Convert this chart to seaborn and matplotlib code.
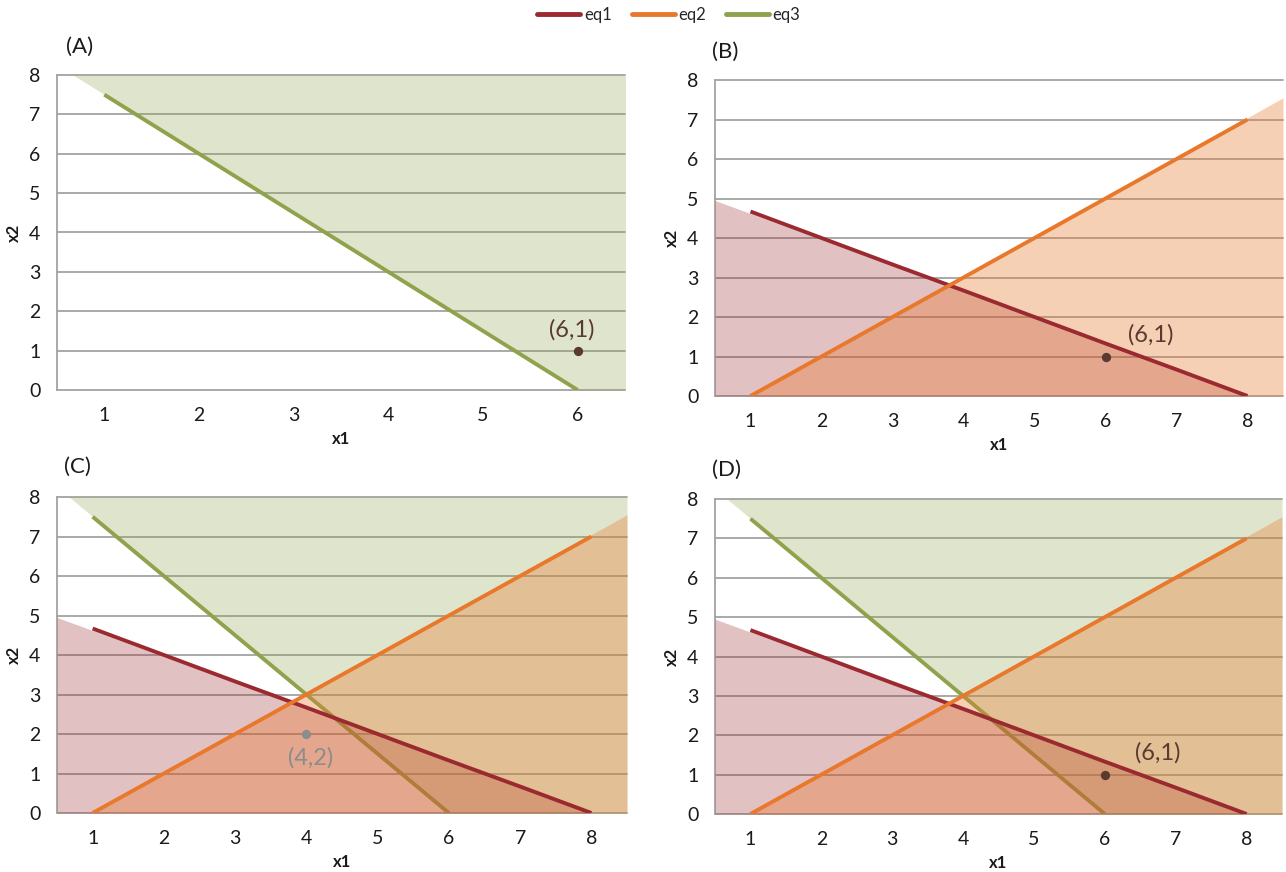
import numpy as np
import pandas as pd
import matplotlib
matplotlib.use("Agg")
import matplotlib.pyplot as plt
import seaborn as sns
from matplotlib.lines import Line2D

# ---- data ----
x_eq1 = [1, 2, 3, 4, 5, 6, 7, 8]
y_eq1 = [4.67, 4.0, 3.33, 2.67, 2.0, 1.33, 0.67, 0.0]
x_eq2 = [1, 2, 3, 4, 5, 6, 7, 8]
y_eq2 = [0, 1, 2, 3, 4, 5, 6, 7]
x_eq3 = [1, 2, 3, 4, 5, 6]
y_eq3 = [7.5, 6.0, 4.5, 3.0, 1.5, 0.0]

# shaded feasible regions (area edges, extended to the plot edges)
fill_eq1_x = [0.5, 8.0, 8.5]
fill_eq1_y = [4.95, 0.0, 0.0]
fill_eq2_x = [0.5, 1.0, 8.5]
fill_eq2_y = [0.0, 0.0, 7.55]
fill_eq3_x = [0.5, 0.67, 6.0, 8.5]
fill_eq3_y = [8.0, 8.0, 0.0, 0.0]

panel_labels = ["(A)", "(B)", "(C)", "(D)"]
ticks_A = [1, 2, 3, 4, 5, 6]
ticks_BCD = [1, 2, 3, 4, 5, 6, 7, 8]
y_ticks = [0, 1, 2, 3, 4, 5, 6, 7, 8]

point_61 = (6, 1)
point_42 = (4, 2)

C1 = "#9b2a30"
C2 = "#e8792c"
C3 = "#8fa24c"
GRID = "#a3a3a3"
TXT = "#1a1a1a"

sns.set_theme(style="white")
plt.rcParams["font.family"] = ["Lato", "DejaVu Sans"]

W, H = 1286, 872
fig = plt.figure(figsize=(W / 100, H / 100), dpi=100)


def px_axes(left, top, right, bottom):
    return fig.add_axes([left / W, 1 - bottom / H, (right - left) / W, (bottom - top) / H])


def setup(ax, xmax, ticks):
    ax.set_xlim(0.5, xmax)
    ax.set_ylim(0, 8)
    for y in y_ticks:
        ax.axhline(y, color=GRID, lw=1.3, zorder=1, clip_on=False)
    for s in ["top", "right", "bottom"]:
        ax.spines[s].set_visible(False)
    ax.spines["left"].set_color(GRID)
    ax.spines["left"].set_linewidth(1.3)
    ax.set_xticks(ticks)
    ax.set_yticks(y_ticks)
    ax.tick_params(axis="x", length=0, pad=12, labelsize=14, labelcolor=TXT)
    ax.tick_params(axis="y", length=0, pad=12, labelsize=14, labelcolor=TXT)
    ax.set_xlabel("x1", fontsize=12, fontweight="bold", labelpad=5, color=TXT)
    ax.set_ylabel("x2", fontsize=12, fontweight="bold", labelpad=5, color=TXT)
    ax.set_facecolor("white")


def fill_eq3(ax):
    ax.fill_between(fill_eq3_x, fill_eq3_y, 8, color=C3, alpha=0.28, lw=0, zorder=2)


def fill_eq1(ax):
    ax.fill_between(fill_eq1_x, 0, fill_eq1_y, color=C1, alpha=0.29, lw=0, zorder=3)


def fill_eq2(ax):
    ax.fill_between(fill_eq2_x, 0, fill_eq2_y, color=C2, alpha=0.35, lw=0, zorder=3)


def line(ax, xs, ys, c, z):
    sns.lineplot(x=xs, y=ys, ax=ax, color=c, lw=2.8, zorder=z, legend=False,
                 solid_capstyle="butt")


def point(ax, p, label, c, tc, dx, dy):
    ax.scatter([p[0]], [p[1]], s=45, color=c, zorder=6, lw=0)
    ax.text(p[0] + dx, p[1] + dy, label, color=tc, fontsize=17, ha="center",
            va="center", zorder=7)


# Panel A
axA = px_axes(57, 75, 625, 390)
setup(axA, 6.5, ticks_A)
fill_eq3(axA)
line(axA, x_eq3, y_eq3, C3, 4)
point(axA, point_61, "(6,1)", "#5a3a30", "#5a3a30", -0.06, 0.52)

# Panel B
axB = px_axes(715, 80, 1283, 396)
setup(axB, 8.5, ticks_BCD)
fill_eq1(axB)
fill_eq2(axB)
line(axB, x_eq1, y_eq1, C1, 5)
line(axB, x_eq2, y_eq2, C2, 5)
point(axB, point_61, "(6,1)", "#5a3a30", "#5a3a30", 0.64, 0.55)

# Panel C
axC = px_axes(57, 497, 627, 813)
setup(axC, 8.5, ticks_BCD)
fill_eq3(axC)
line(axC, x_eq3, y_eq3, C3, 2.5)
fill_eq1(axC)
fill_eq2(axC)
line(axC, x_eq1, y_eq1, C1, 5)
line(axC, x_eq2, y_eq2, C2, 5)
point(axC, point_42, "(4,2)", "#8c8c8c", "#8c8c8c", 0.06, -0.6)

# Panel D
axD = px_axes(715, 499, 1282, 814)
setup(axD, 8.5, ticks_BCD)
fill_eq3(axD)
line(axD, x_eq3, y_eq3, C3, 2.5)
fill_eq1(axD)
fill_eq2(axD)
line(axD, x_eq1, y_eq1, C1, 5)
line(axD, x_eq2, y_eq2, C2, 5)
point(axD, point_61, "(6,1)", "#5a3a30", "#5a3a30", 0.75, 0.55)

# panel letters (pixel positions)
letter_pos = [(66, 47), (712, 52), (64, 467), (712, 470)]
for (px, py), lab in zip(letter_pos, panel_labels):
    fig.text(px / W, 1 - py / H, lab, fontsize=16, ha="left", va="center", color=TXT)

# legend
handles = [Line2D([], [], color=c, lw=3.5) for c in [C1, C2, C3]]
fig.legend(handles, ["eq1", "eq2", "eq3"], loc="center", bbox_to_anchor=(0.52, 1 - 15 / H),
           ncol=3, frameon=False, fontsize=12, handlelength=2.6, handletextpad=0.2,
           columnspacing=1.2)

fig.savefig("out.png", dpi=100, facecolor="white")
